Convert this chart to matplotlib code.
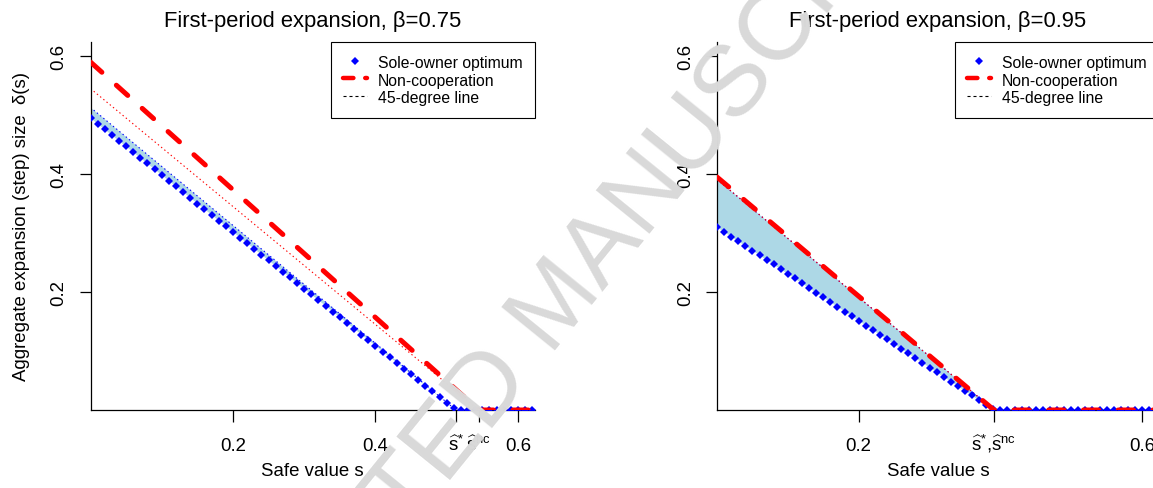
import matplotlib
matplotlib.use('Agg')
import matplotlib.pyplot as plt
from matplotlib.lines import Line2D

plt.rcParams['font.family'] = ['Liberation Sans', 'DejaVu Sans']
plt.rcParams['mathtext.fontset'] = 'custom'
plt.rcParams['mathtext.rm'] = 'Liberation Sans'
plt.rcParams['mathtext.it'] = 'Liberation Sans:italic'
plt.rcParams['mathtext.bf'] = 'Liberation Sans:bold'
plt.rcParams['lines.scale_dashes'] = False

# ---------------- data ----------------
titles = ['First-period expansion, \u03b2=0.75', 'First-period expansion, \u03b2=0.95']

s_grid = [0.00, 0.01, 0.02, 0.03, 0.04, 0.05, 0.06, 0.07, 0.08, 0.09,
          0.10, 0.11, 0.12, 0.13, 0.14, 0.15, 0.16, 0.17, 0.18, 0.19,
          0.20, 0.21, 0.22, 0.23, 0.24, 0.25, 0.26, 0.27, 0.28, 0.29,
          0.30, 0.31, 0.32, 0.33, 0.34, 0.35, 0.36, 0.37, 0.38, 0.39,
          0.40, 0.41, 0.42, 0.43, 0.44, 0.45, 0.46, 0.47, 0.48, 0.49,
          0.50, 0.51, 0.52, 0.53, 0.54, 0.55, 0.56, 0.57, 0.58, 0.59,
          0.60, 0.61, 0.62]

# sole-owner optimum, beta = 0.75
sole_left = [0.495, 0.485, 0.476, 0.466, 0.456, 0.447, 0.437, 0.427, 0.418, 0.408,
             0.399, 0.389, 0.379, 0.370, 0.360, 0.350, 0.341, 0.331, 0.321, 0.312,
             0.302, 0.292, 0.283, 0.273, 0.263, 0.254, 0.244, 0.234, 0.225, 0.215,
             0.206, 0.196, 0.186, 0.177, 0.167, 0.157, 0.148, 0.138, 0.128, 0.119,
             0.109, 0.099, 0.090, 0.080, 0.070, 0.061, 0.051, 0.041, 0.032, 0.022,
             0.012, 0.003, 0.0, 0.0, 0.0, 0.0, 0.0, 0.0, 0.0, 0.0,
             0.0, 0.0, 0.0]
# sole-owner optimum, beta = 0.95
sole_right = [0.310, 0.302, 0.294, 0.286, 0.278, 0.270, 0.262, 0.254, 0.247, 0.239,
              0.231, 0.223, 0.215, 0.207, 0.199, 0.191, 0.183, 0.175, 0.167, 0.159,
              0.151, 0.143, 0.136, 0.128, 0.120, 0.112, 0.104, 0.096, 0.088, 0.080,
              0.072, 0.064, 0.056, 0.048, 0.040, 0.032, 0.025, 0.017, 0.009, 0.001,
              0.0, 0.0, 0.0, 0.0, 0.0, 0.0, 0.0, 0.0, 0.0, 0.0,
              0.0, 0.0, 0.0, 0.0, 0.0, 0.0, 0.0, 0.0, 0.0, 0.0,
              0.0, 0.0, 0.0]

# non-cooperation (piecewise linear knots)
nc_s_left = [0.0, 0.545, 0.62]
nc_left = [0.590, 0.0, 0.0]
nc_s_right = [0.0, 0.391, 0.62]
nc_right = [0.395, 0.0, 0.0]

# thresholds
s_star = [0.513, 0.391]
s_nc = [0.545, 0.391]

HAT_STAR = r'$\widehat{\mathrm{s}}^{*}$'
HAT_NC = r'$\widehat{\mathrm{s}}^{\mathrm{nc}}$'
xticks_left = [0.2, 0.4, 0.513, 0.545, 0.6]
xticklabels_left = ['0.2', '0.4', HAT_STAR, HAT_NC, '0.6']
xticks_right = [0.2, 0.391, 0.6]
xticklabels_right = ['0.2', HAT_STAR + ',' + HAT_NC, '0.6']
yticks = [0.2, 0.4, 0.6]
yticklabels = ['0.2', '0.4', '0.6']

legend_labels = ['Sole-owner optimum', 'Non-cooperation', '45-degree line']

# ---------------- figure ----------------
W, H = 1153, 489
fig = plt.figure(figsize=(W / 100, H / 100), dpi=100)

def px_axes(x0, x1, ytop, ybot):
    return [x0 / W, 1 - ybot / H, (x1 - x0) / W, (ybot - ytop) / H]

# watermark
fig.text(558 / W, 1 - 306 / H, 'ACCEPTED MANUSCRIPT', rotation=51,
         rotation_mode='anchor', ha='center', va='center', fontsize=72,
         color='#d9d9d9', zorder=0)

axL = fig.add_axes(px_axes(90.5, 535, 43, 411))
axR = fig.add_axes(px_axes(717, 1159, 43, 411))

panels = [
    (axL, sole_left, nc_s_left, nc_left, s_star[0], s_nc[0], xticks_left, xticklabels_left, titles[0]),
    (axR, sole_right, nc_s_right, nc_right, s_star[1], s_nc[1], xticks_right, xticklabels_right, titles[1]),
]

RED_LW = 3.6
MS = 3.9
for ax, sole, ncs, ncv, sst, snc, xt, xtl, ttl in panels:
    ax.set_facecolor('none')
    # shaded band between sole-owner optimum and 45-degree line
    ax.fill([0.0, sst, 0.0], [sst, 0.0, sole[0]], color='#add8e6', lw=0, zorder=1)
    # 45-degree lines
    ax.plot([0.0, sst], [sst, 0.0], color='blue', lw=0.8, dashes=(1.0, 2.0), zorder=2)
    ax.plot([0.0, snc], [snc, 0.0], color='red', lw=0.8, dashes=(1.0, 2.0), zorder=2)
    # sole-owner optimum (diamonds)
    ax.plot(s_grid, sole, ls='none', marker='D', ms=MS, color='blue', mew=0, zorder=3)
    # non-cooperation
    ax.plot(ncs, ncv, color='red', lw=RED_LW, dashes=(11, 14), dash_capstyle='round',
            solid_capstyle='round', zorder=4)

    ax.set_xlim(0, 0.624)
    ax.set_ylim(0, 0.624)
    for sp in ['top', 'right']:
        ax.spines[sp].set_visible(False)
    for sp in ['left', 'bottom']:
        ax.spines[sp].set_linewidth(0.9)
        ax.spines[sp].set_color('black')

    ax.set_xticks(xt)
    ax.set_xticklabels(xtl)
    ax.set_yticks(yticks)
    ax.set_yticklabels(yticklabels, rotation=90, va='center')
    ax.tick_params(axis='x', length=8.6, width=0.9, pad=20, labelsize=13.4)
    ax.tick_params(axis='y', length=8.0, width=0.9, pad=8.6, labelsize=13.4)
    for tk in ax.xaxis.get_major_ticks():
        tk.label1.set_verticalalignment('baseline')

    ax.set_title(ttl, fontsize=15.8, pad=11.2)
    ax.set_xlabel('Safe value s', fontsize=13.4)
    ax.xaxis.label.set_verticalalignment('baseline')
    ax.xaxis.set_label_coords(0.5, -(476 - 411) / 368)

    handles = [
        Line2D([], [], ls='none', marker='D', ms=4.0, color='blue', mew=0),
        Line2D([], [], color='red', lw=3.2, dashes=(7.5, 8.5), dash_capstyle='round'),
        Line2D([], [], color='black', lw=0.8, dashes=(2.2, 2.1)),
    ]
    leg = ax.legend(handles, legend_labels, loc='upper right', bbox_to_anchor=(1, 1),
                    borderaxespad=0, fontsize=11.3, handlelength=1.55, handleheight=1.08,
                    handletextpad=0.68, borderpad=0.78, labelspacing=0.12,
                    fancybox=False, framealpha=1)
    leg.get_frame().set_edgecolor('black')
    leg.get_frame().set_linewidth(0.8)

axL.set_ylabel('Aggregate expansion (step) size  \u03b4(s)', fontsize=13.4)
axL.yaxis.label.set_verticalalignment('center')
axL.yaxis.set_label_coords((22 - 90.5) / 444.5, 0.5)

fig.savefig('out.png', dpi=100)
